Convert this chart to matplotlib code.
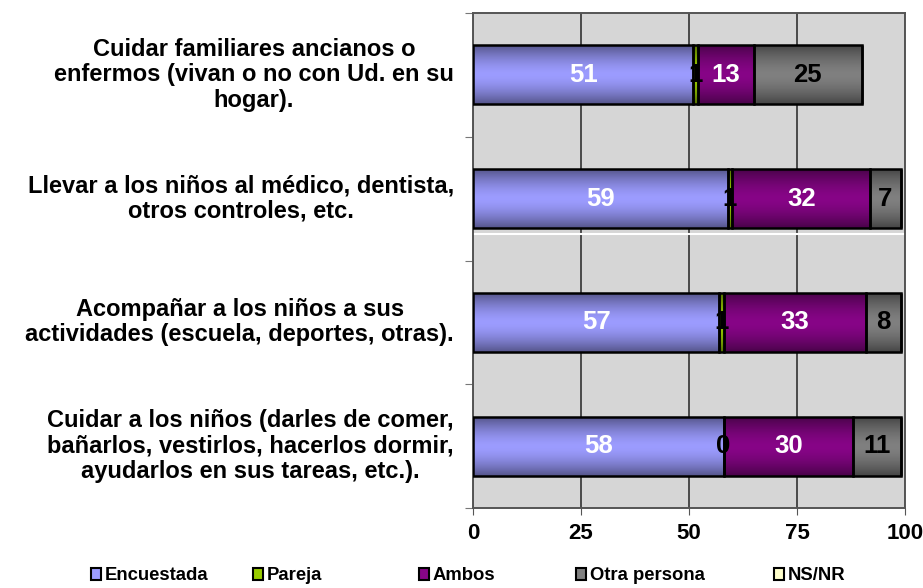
import numpy as np
import matplotlib
matplotlib.use("Agg")
import matplotlib.pyplot as plt
from matplotlib.patches import Patch
from matplotlib.colors import to_rgb

plt.rcParams['font.family'] = ['Liberation Sans', 'DejaVu Sans']
plt.rcParams['font.weight'] = 'bold'

categories = [
    "Cuidar familiares ancianos o\nenfermos (vivan o no con Ud. en su\nhogar).",
    "Llevar a los niños al médico, dentista,\notros controles, etc.",
    "Acompañar a los niños a sus\nactividades (escuela, deportes, otras).",
    "Cuidar a los niños (darles de comer,\nbañarlos, vestirlos, hacerlos dormir,\nayudarlos en sus tareas, etc.).",
]
series = ["Encuestada", "Pareja", "Ambos", "Otra persona", "NS/NR"]
encuestada = [51, 59, 57, 58]
pareja = [1, 1, 1, 0]
ambos = [13, 32, 33, 30]
otra = [25, 7, 8, 11]
nsnr = [0, 0, 0, 0]
xticks = [0, 25, 50, 75, 100]

colors = ["#9c9cff", "#99cc00", "#870587", "#808080", "#ffffcc"]
text_colors = ["white", "black", "white", "black", "black"]


def shaded(col, n=60):
    # darker at top and bottom edge, like the old Excel bar fill
    t = np.linspace(-1, 1, n)
    f = 1 - 0.45 * np.abs(t) ** 1.6
    rgb = np.array(to_rgb(col))
    return (rgb[None, :] * f[:, None])[:, None, :]


fig = plt.figure(figsize=(9.23, 5.88), dpi=100)
ax = fig.add_axes([473 / 923, 80 / 588, (905 - 473) / 923, 495 / 588])
ax.set_facecolor("#d6d6d6")

ypos = np.array([3, 2, 1, 0])
h = 0.475
left = np.zeros(4)
values = [encuestada, pareja, ambos, otra, nsnr]
for name, vals, col, tc in zip(series, values, colors, text_colors):
    vals = np.array(vals, dtype=float)
    for y, l, v in zip(ypos, left, vals):
        if v > 0:
            ax.imshow(shaded(col), extent=(l, l + v, y - h / 2, y + h / 2),
                      aspect="auto", interpolation="bilinear", zorder=3)
    ax.barh(ypos, vals, left=left, height=h, facecolor="none",
            edgecolor="black", linewidth=1.8, zorder=4)
    if name != "NS/NR":
        for y, l, v in zip(ypos, left, vals):
            ax.text(l + v / 2, y, "%d" % v, ha="center", va="center",
                    color=tc, fontsize=18.5, fontweight="bold", zorder=5)
    left = left + vals

ax.axhline(1.714, color="white", linewidth=1.5, zorder=2)

ax.set_xlim(0, 100)
ax.set_ylim(-0.5, 3.5)
ax.set_xticks(xticks)
ax.set_xticklabels([str(t) for t in xticks], fontsize=16, fontweight="bold")
ax.tick_params(axis="x", length=5, pad=6, color="#555555")
ax.grid(axis="x", color="#4a4a4a", linewidth=1.4, zorder=1)
ax.set_yticks([-0.5, 0.5, 1.5, 2.5, 3.5])
ax.set_yticklabels([])
ax.tick_params(axis="y", length=6, color="#777777")
for s in ax.spines.values():
    s.set_color("#555555")
    s.set_linewidth(1.4)

for y, lab in zip(ypos, categories):
    ax.text(-0.044, y, lab, transform=ax.get_yaxis_transform(),
            ha="right", va="center", multialignment="center",
            fontsize=17, fontweight="bold", linespacing=1.12)

# legend entries placed like the original, one slot each
leg_x = [91, 253, 419, 576, 774]
for x, name, col in zip(leg_x, series, colors):
    leg = fig.legend([Patch(facecolor=col, edgecolor="black", linewidth=1.5)], [name],
                     loc="center left", bbox_to_anchor=(x / 923, 12 / 588),
                     frameon=False, handlelength=0.55, handleheight=0.55,
                     handletextpad=0.2, borderpad=0, borderaxespad=0,
                     prop={"weight": "bold", "size": 13.3})

fig.savefig("out.png", dpi=100)
